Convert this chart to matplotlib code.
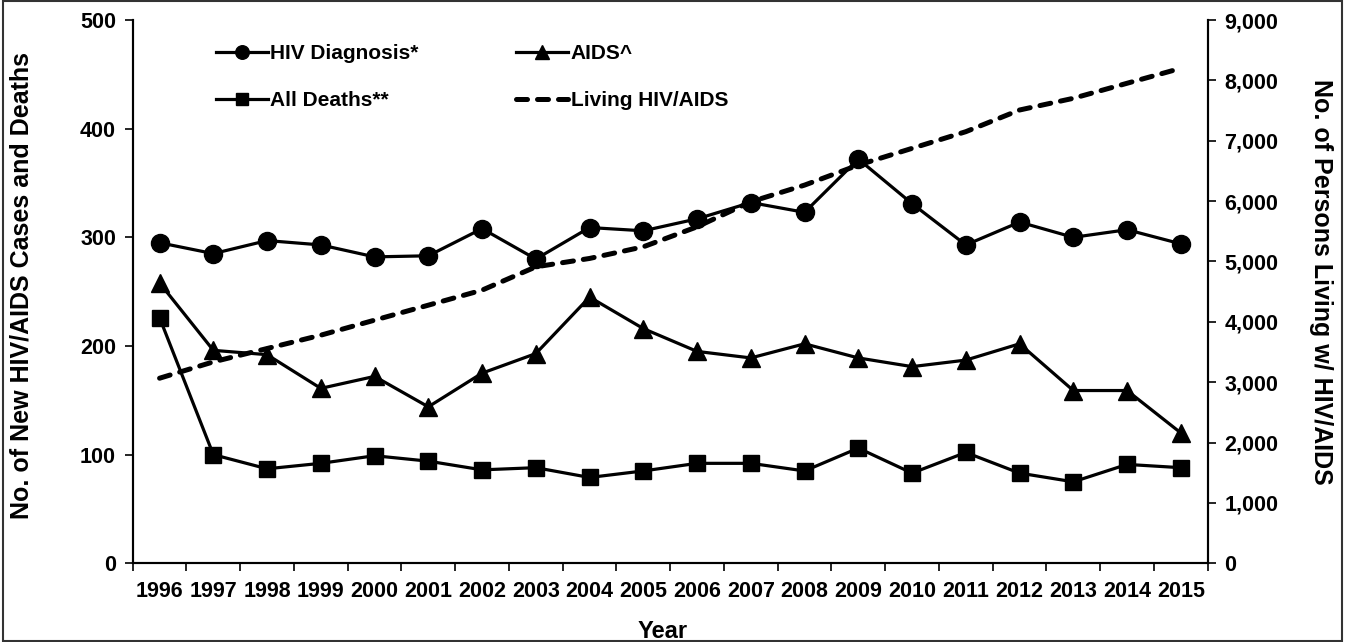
import matplotlib
matplotlib.use("Agg")
import matplotlib.pyplot as plt
from matplotlib.patches import Rectangle
from matplotlib.ticker import FuncFormatter

plt.rcParams['font.family'] = ['Liberation Sans', 'DejaVu Sans']
plt.rcParams['font.weight'] = 'bold'

years = ['1996', '1997', '1998', '1999', '2000', '2001', '2002', '2003', '2004', '2005',
         '2006', '2007', '2008', '2009', '2010', '2011', '2012', '2013', '2014', '2015']
hiv_diagnosis = [295, 285, 297, 293, 282, 283, 308, 280, 309, 306,
                 317, 332, 323, 372, 331, 293, 314, 300, 307, 294]
aids = [258, 196, 192, 161, 172, 144, 175, 193, 245, 216,
        195, 189, 202, 189, 181, 187, 202, 159, 159, 120]
all_deaths = [226, 100, 87, 92, 99, 94, 86, 88, 79, 85,
              92, 92, 85, 106, 83, 102, 83, 75, 91, 88]
living = [3066, 3337, 3558, 3779, 4028, 4276, 4525, 4911, 5050, 5243,
          5574, 5989, 6265, 6597, 6874, 7150, 7509, 7703, 7952, 8200]

labels = ['HIV Diagnosis*', 'AIDS^', 'All Deaths**', 'Living HIV/AIDS']

fig = plt.figure(figsize=(13.45, 6.42), dpi=100)
ax = fig.add_axes([132.7/1345, 1-563.3/642, (1207.7-132.7)/1345, (563.3-20)/642])
ax2 = ax.twinx()
ax.set_zorder(ax2.get_zorder() + 1)
ax.patch.set_visible(False)

x = list(range(len(years)))
lw = 2.3
l1, = ax.plot(x, hiv_diagnosis, color='black', lw=lw, marker='o', ms=13, label=labels[0])
l2, = ax.plot(x, aids, color='black', lw=lw, marker='^', ms=13, label=labels[1])
l3, = ax.plot(x, all_deaths, color='black', lw=lw, marker='s', ms=12, label=labels[2])
l4, = ax2.plot(x, living, color='black', lw=3.6, ls=(0, (2.2, 2.0)),
               dash_capstyle='round', label=labels[3])

ax.set_xlim(-0.5, len(years) - 0.5)
ax.set_ylim(0, 500)
ax2.set_ylim(0, 9000)
ax.set_yticks(range(0, 501, 100))
ax2.set_yticks(range(0, 9001, 1000))
ax2.yaxis.set_major_formatter(FuncFormatter(lambda v, p: f'{int(v):,}'))

ax.set_xticks(x)
ax.set_xticklabels(years)
ax.set_xticks([i - 0.5 for i in range(len(years) + 1)], minor=True)
ax.tick_params(axis='x', which='major', length=0, pad=13)
ax.tick_params(axis='x', which='minor', length=6, width=1.2, direction='out')
ax.tick_params(axis='y', length=6, width=1.2, direction='out', pad=6)
ax2.tick_params(axis='y', length=6, width=1.2, direction='out', pad=6)

for a in (ax, ax2):
    for lab in a.get_xticklabels() + a.get_yticklabels():
        lab.set_fontsize(15.5)
        lab.set_fontweight('bold')
    a.spines['top'].set_visible(False)
    for s in ('left', 'right', 'bottom'):
        a.spines[s].set_linewidth(1.5)

ax.set_xlabel('Year', fontsize=17, fontweight='bold')
ax.xaxis.set_label_coords(0.493, -0.104)
ax.set_ylabel('No. of New HIV/AIDS Cases and Deaths', fontsize=18, fontweight='bold')
ax.yaxis.set_label_coords(-0.0927, 0.512)
ax2.set_ylabel('No. of Persons Living w/ HIV/AIDS', fontsize=18, fontweight='bold', rotation=270)
ax2.yaxis.set_label_coords(1.1165, 0.518)

leg = ax.legend([l1, l3, l2, l4], [labels[0], labels[2], labels[1], labels[3]],
                ncol=2, loc='upper left', bbox_to_anchor=(0.06, 0.99),
                frameon=False, fontsize=15, handlelength=2.5, handletextpad=0.1,
                columnspacing=4.7, labelspacing=1.35, markerscale=0.75)
for t in leg.get_texts():
    t.set_fontweight('bold')

fig.patches.append(Rectangle((0.002, 0.002), 0.996, 0.996, transform=fig.transFigure,
                             fill=False, edgecolor='#333333', lw=1.5))

fig.savefig('out.png', dpi=100)
